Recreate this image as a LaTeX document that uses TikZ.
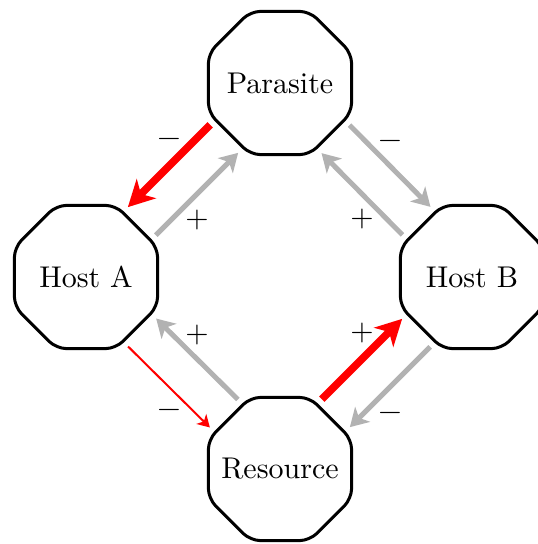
\documentclass[tikz,border=0pt]{standalone}
\usepackage{fontspec}
\setmainfont{lmroman10-regular.otf}
\usetikzlibrary{shapes.geometric,arrows.meta}
\newcommand{\spname}[1]{\makebox[0pt]{#1}}
\begin{document}
\begin{tikzpicture}[x=1pt,y=1pt,
  species/.style={regular polygon, regular polygon sides=8, minimum size=155pt,
    inner sep=0pt, draw=black, line width=3pt, rounded corners=10pt,
    font=\fontsize{30}{36}\selectfont},
  link/.style={shorten <=79pt, shorten >=79pt},
  strongred/.style={link, draw=red, line width=7.5pt,
    -{Stealth[length=26pt,width=27pt,inset=7.5pt]}},
  weakred/.style={link, draw=red, line width=2pt,
    -{Stealth[length=12pt,width=14pt,inset=3.5pt]}},
  greylink/.style={link, draw=black!30, line width=5pt,
    -{Stealth[length=18pt,width=21pt,inset=5pt]}},
  % box centred on the axis of the + and − glyphs
  sign/.style={font=\fontsize{30}{36}\selectfont, text=black, inner sep=0pt,
    text height=15pt, text depth=0pt}
]
\useasboundingbox (0,0) rectangle (538,-544);

% the four species
\node[species] (par) at (280,-83)  {\spname{Parasite}};
\node[species] (ha)  at (86,-277)  {\spname{Host A}};
\node[species] (hb)  at (472,-277) {\spname{Host B}};
\node[species] (res) at (280,-469) {\spname{Resource}};

% Parasite <-> Host A
\draw[strongred] ([shift={(-14,14)}]par.center) -- ([shift={(-14,14)}]ha.center)
  node[sign, midway, yshift=27pt] {−};
\draw[greylink] ([shift={(14,-14)}]ha.center) -- ([shift={(14,-14)}]par.center)
  node[sign, midway, yshift=-26pt] {+};

% Parasite <-> Host B
\draw[greylink] ([shift={(14,14)}]par.center) -- ([shift={(14,14)}]hb.center)
  node[sign, midway, yshift=25pt] {−};
\draw[greylink] ([shift={(-14,-14)}]hb.center) -- ([shift={(-14,-14)}]par.center)
  node[sign, midway, yshift=-25pt] {+};

% Host A <-> Resource
\draw[weakred] ([shift={(-14,-14)}]ha.center) -- ([shift={(-14,-14)}]res.center)
  node[sign, midway, yshift=-23pt] {−};
\draw[greylink] ([shift={(14,14)}]res.center) -- ([shift={(14,14)}]ha.center)
  node[sign, midway, yshift=24pt] {+};

% Host B <-> Resource
\draw[strongred] ([shift={(-14,14)}]res.center) -- ([shift={(-14,14)}]hb.center)
  node[sign, midway, yshift=26pt] {+};
\draw[greylink] ([shift={(14,-14)}]hb.center) -- ([shift={(14,-14)}]res.center)
  node[sign, midway, yshift=-26pt] {−};
\end{tikzpicture}
\end{document}
